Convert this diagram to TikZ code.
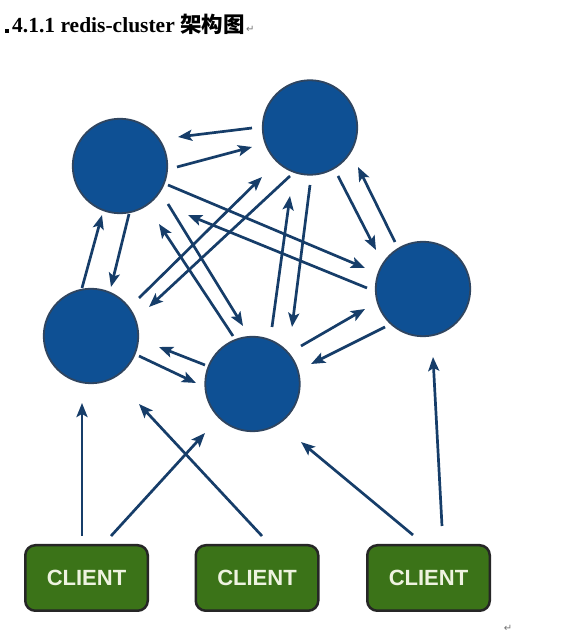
\documentclass[tikz,border=0pt]{standalone}
\usepackage{fontspec}
\setmainfont{Liberation Serif}
\setsansfont{Liberation Sans}
\newfontfamily\cjk{Noto Sans CJK SC}
\newfontfamily\symb{DejaVu Sans}
\usetikzlibrary{arrows.meta,calc}
\definecolor{srvblue}{HTML}{0E5094}
\definecolor{srvedge}{HTML}{2F4560}
\definecolor{linkblue}{HTML}{163D69}
\definecolor{cligreen}{HTML}{3B7318}
\definecolor{clitext}{HTML}{EEF3E0}

\begin{document}
\begin{tikzpicture}[x=1pt,y=1pt,
  server/.style={circle, fill=srvblue, draw=srvedge, line width=1.8pt, minimum size=94.5pt, inner sep=0pt},
  client/.style={rounded corners=10pt, fill=cligreen, draw=black!85, line width=2.5pt, minimum width=122.5pt, minimum height=65.5pt, text=clitext, font=\sffamily\bfseries\fontsize{22}{22}\selectfont},
  link/.style={linkblue, line width=2.7pt, -{Stealth[length=14pt,width=11pt,inset=3pt]}}]
\useasboundingbox (0,0) rectangle (561,635);
% title line
\fill (5,602) rectangle (9,606);
\node[anchor=base west, inner sep=0pt, font=\bfseries\fontsize{21.5}{21.5}\selectfont] (title) at (12,602) {4.1.1 redis-cluster {\cjk 架构图}};
\node[anchor=base west, inner sep=1pt, text=black!55, font=\symb\fontsize{10}{10}\selectfont] (mark1) at (title.base east) {↵};
\node[anchor=base, inner sep=0pt, text=black!55, font=\symb\fontsize{10}{10}\selectfont] (mark2) at (508,3) {↵};
% redis nodes
\node[server] (A) at (120,469) {};
\node[server] (B) at (310,507.5) {};
\node[server] (C) at (423,346) {};
\node[server] (D) at (91,299) {};
\node[server] (E) at (252.5,251) {};
% clients
\node[client] (c1) at (86.5,57) {CLIENT};
\node[client] (c2) at (257,57) {CLIENT};
\node[client] (c3) at (428.5,57) {CLIENT};
% cluster links
\draw[link] ($(B)+(-58,-0.5)$) -- ($(A)+(58,29)$);
\draw[link] ($(A)+(57,-1)$) -- ($(B)+(-58,-19.5)$);
\draw[link] ($(A)+(48,-19)$) -- ($(C)+(-58,21)$);
\draw[link] ($(C)+(-56,1)$) -- ($(A)+(68,-49)$);
\draw[link] ($(A)+(48,-38)$) -- ($(E)+(-9.5,58)$);
\draw[link] ($(E)+(-19.5,48)$) -- ($(A)+(39,-58)$);
\draw[link] ($(D)+(48,38)$) -- ($(B)+(-48,-49.5)$);
\draw[link] ($(B)+(-20,-48.5)$) -- ($(D)+(58,29)$);
\draw[link] ($(E)+(19.5,57)$) -- ($(B)+(-20,-68.5)$);
\draw[link] ($(B)+(0,-57.5)$) -- ($(E)+(39.5,57)$);
\draw[link] ($(B)+(28,-48.5)$) -- ($(C)+(-47,39)$);
\draw[link] ($(C)+(-28,47)$) -- ($(B)+(48,-39.5)$);
\draw[link] ($(E)+(48.5,38)$) -- ($(C)+(-58,-20)$);
\draw[link] ($(C)+(-38,-38)$) -- ($(E)+(58.5,20)$);
\draw[link] ($(E)+(-47.5,19)$) -- ($(D)+(68,-11)$);
\draw[link] ($(D)+(48,-20)$) -- ($(E)+(-56.5,1)$);
\draw[link] ($(D)+(-9,48)$) -- ($(A)+(-18,-49)$);
\draw[link] ($(A)+(9,-48)$) -- ($(D)+(20,49)$);
% client links
\draw[link] ($(c1)+(-4.5,42)$) -- ($(D)+(-9,-67)$);
\draw[link] ($(c1)+(24.5,42)$) -- ($(E)+(-47.5,-49)$);
\draw[link] ($(c2)+(5,42)$) -- ($(D)+(48,-68)$);
\draw[link] ($(c3)+(-15.5,43)$) -- ($(E)+(48.5,-58)$);
\draw[link] ($(c3)+(13.5,52)$) -- ($(C)+(10,-68)$);
\end{tikzpicture}
\end{document}
